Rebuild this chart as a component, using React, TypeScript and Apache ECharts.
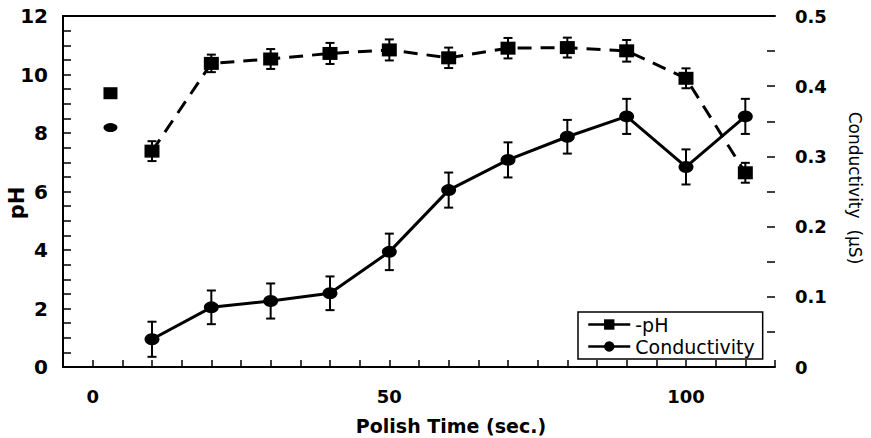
import React, { useEffect, useRef } from "react";
import * as echarts from "echarts";

const polishTime = [10, 20, 30, 40, 50, 60, 70, 80, 90, 100, 110];
const phValues = [7.38, 10.38, 10.53, 10.72, 10.84, 10.57, 10.9, 10.92, 10.81, 9.87, 6.64];
const phErrors = [0.34, 0.3, 0.34, 0.36, 0.36, 0.35, 0.35, 0.34, 0.37, 0.34, 0.34];
const condValues = [0.0395, 0.085, 0.094, 0.105, 0.164, 0.252, 0.295, 0.328, 0.357, 0.285, 0.357];
const condErrors = [0.025, 0.024, 0.025, 0.024, 0.026, 0.025, 0.025, 0.024, 0.025, 0.025, 0.025];
const initialTime = [3];
const initialPh = [9.36];
const initialCond = [0.341];
const xTickLabels = [0, 50, 100];

const FONT = "DejaVu Sans";

function errorBarItem(params: any, api: any) {
  const x = api.value(0);
  const y = api.value(1);
  const e = api.value(2);
  const top = api.coord([x, y + e]);
  const bot = api.coord([x, y - e]);
  const hw = 4.5;
  const style = { stroke: "#000", lineWidth: 2 };
  return {
    type: "group",
    children: [
      { type: "line", shape: { x1: top[0], y1: top[1], x2: bot[0], y2: bot[1] }, style },
      { type: "line", shape: { x1: top[0] - hw, y1: top[1], x2: top[0] + hw, y2: top[1] }, style },
      { type: "line", shape: { x1: bot[0] - hw, y1: bot[1], x2: bot[0] + hw, y2: bot[1] }, style },
    ],
  };
}

export default function App() {
  const ref = useRef<HTMLDivElement>(null);
  useEffect(() => {
    if (!ref.current) return;
    const chart = echarts.init(ref.current, null, { renderer: "svg" });
    const phData = polishTime.map((t, i) => [t, phValues[i]]);
    const condData = polishTime.map((t, i) => [t, condValues[i]]);
    const phErr = polishTime.map((t, i) => [t, phValues[i], phErrors[i]]);
    const condErr = polishTime.map((t, i) => [t, condValues[i], condErrors[i]]);
    chart.setOption({
      animation: false,
      backgroundColor: "#fff",
      grid: { left: 63, right: 96, top: 16, bottom: 71, containLabel: false },
      xAxis: [
        {
          type: "value",
          min: -5,
          max: 115,
          interval: 5,
          position: "bottom",
          axisLine: { show: true, onZero: false, lineStyle: { color: "#000", width: 2 } },
          axisTick: { show: true, inside: true, length: 7, lineStyle: { color: "#000", width: 1.5 } },
          axisLabel: {
            margin: 20,
            color: "#000",
            fontFamily: FONT,
            fontWeight: "bold",
            fontSize: 18,
            formatter: (v: number) => (xTickLabels.indexOf(v) >= 0 ? String(v) : ""),
          },
          splitLine: { show: false },
        },
        {
          type: "value",
          min: -5,
          max: 115,
          position: "top",
          axisLine: { show: true, onZero: false, lineStyle: { color: "#000", width: 2 } },
          axisTick: { show: false },
          axisLabel: { show: false },
          splitLine: { show: false },
        },
      ],
      yAxis: [
        {
          type: "value",
          min: 0,
          max: 12,
          interval: 2,
          position: "left",
          axisLine: { show: true, onZero: false, lineStyle: { color: "#000", width: 2 } },
          axisTick: { show: true, inside: true, length: 8, lineStyle: { color: "#000", width: 1.5 } },
          minorTick: { show: true, splitNumber: 4, length: 8, lineStyle: { color: "#000", width: 1.5 } },
          axisLabel: { margin: 15, color: "#000", fontFamily: FONT, fontWeight: "bold", fontSize: 20 },
          splitLine: { show: false },
          minorSplitLine: { show: false },
        },
        {
          type: "value",
          min: 0,
          max: 0.5,
          interval: 0.1,
          position: "right",
          axisLine: { show: true, onZero: false, lineStyle: { color: "rgba(0,0,0,0)", width: 2 } },
          axisTick: { show: true, inside: true, length: 8, lineStyle: { color: "#000", width: 1.5 } },
          minorTick: { show: true, splitNumber: 2, length: 8, lineStyle: { color: "#000", width: 1.5 } },
          axisLabel: { margin: 20, color: "#000", fontFamily: FONT, fontWeight: "bold", fontSize: 18 },
          splitLine: { show: false },
          minorSplitLine: { show: false },
        },
      ],
      legend: {
        left: 578,
        top: 312,
        orient: "vertical",
        padding: [3, 8, 3, 9],
        itemGap: 3,
        itemWidth: 42,
        itemHeight: 13,
        borderColor: "#000",
        borderWidth: 1.5,
        backgroundColor: "#fff",
        lineStyle: { type: "solid", width: 2.5, color: "#000" },
        textStyle: { color: "#000", fontFamily: FONT, fontSize: 19 },
        formatter: (name: string) => (name === "pH" ? "-pH" : name),
        data: ["pH", "Conductivity"],
      },
      graphic: [
        {
          type: "text",
          x: 451,
          y: 426,
          style: {
            text: "Polish Time (sec.)",
            font: `bold 19px "${FONT}"`,
            fill: "#000",
            align: "center",
            verticalAlign: "middle",
          },
        },
        {
          type: "text",
          x: 17,
          y: 203,
          rotation: Math.PI / 2,
          style: {
            text: "pH",
            font: `bold 21px "${FONT}"`,
            fill: "#000",
            align: "center",
            verticalAlign: "middle",
          },
        },
        {
          type: "text",
          x: 855,
          y: 188,
          rotation: -Math.PI / 2,
          style: {
            text: "Conductivity  (µS)",
            font: `17px "${FONT}"`,
            fill: "#000",
            align: "center",
            verticalAlign: "middle",
          },
        },
      ],
      series: [
        {
          name: "pH",
          type: "line",
          xAxisIndex: 0,
          yAxisIndex: 0,
          data: phData,
          symbol: "rect",
          symbolSize: [15, 13],
          itemStyle: { color: "#000", opacity: 1 },
          lineStyle: { color: "#000", width: 3, type: [14, 9] },
          z: 3,
        },
        {
          name: "Conductivity",
          type: "line",
          xAxisIndex: 0,
          yAxisIndex: 1,
          data: condData,
          symbol: "circle",
          symbolSize: [15, 12],
          itemStyle: { color: "#000", opacity: 1 },
          lineStyle: { color: "#000", width: 3 },
          z: 3,
        },
        {
          name: "pH initial",
          type: "scatter",
          xAxisIndex: 0,
          yAxisIndex: 0,
          data: initialTime.map((t, i) => [t, initialPh[i]]),
          symbol: "rect",
          symbolSize: [14, 12],
          itemStyle: { color: "#000", opacity: 1 },
        },
        {
          name: "Conductivity initial",
          type: "scatter",
          xAxisIndex: 0,
          yAxisIndex: 1,
          data: initialTime.map((t, i) => [t, initialCond[i]]),
          symbol: "circle",
          symbolSize: [14, 9],
          itemStyle: { color: "#000", opacity: 1 },
        },
        {
          name: "pH error",
          type: "custom",
          xAxisIndex: 0,
          yAxisIndex: 0,
          data: phErr,
          renderItem: errorBarItem,
          encode: { x: 0, y: [1, 2] },
          z: 2,
        },
        {
          name: "Conductivity error",
          type: "custom",
          xAxisIndex: 0,
          yAxisIndex: 1,
          data: condErr,
          renderItem: errorBarItem,
          encode: { x: 0, y: [1, 2] },
          z: 2,
        },
      ],
    });
    return () => chart.dispose();
  }, []);
  return <div ref={ref} style={{ width: 871, height: 438, position: "absolute", left: 0, top: 0 }} />;
}
